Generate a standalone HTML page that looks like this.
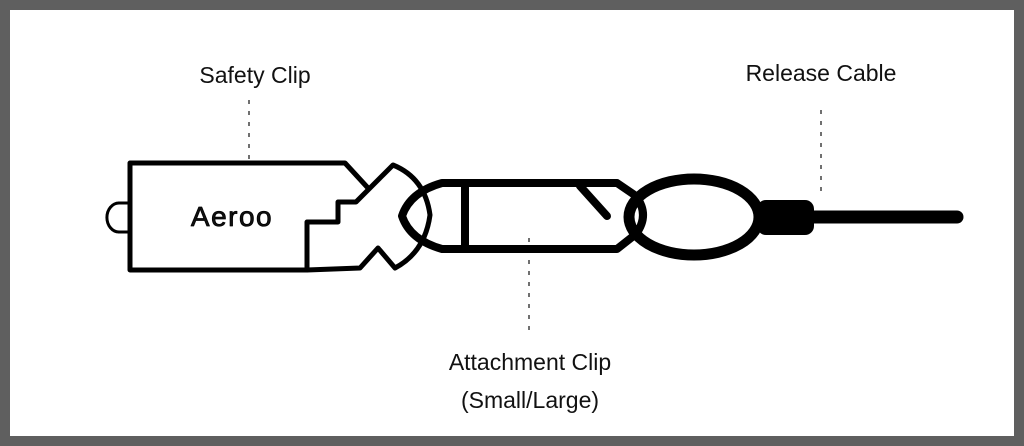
<!DOCTYPE html>
<html><head><style>
html,body{margin:0;padding:0;background:#fff}
svg{display:block}
text{font-family:"Liberation Sans",sans-serif;fill:#111}
</style></head><body>
<svg width="1024" height="446" viewBox="0 0 1024 446">
<rect x="5" y="5" width="1014" height="436" fill="#fff" stroke="#5f5f5f" stroke-width="10"/>
<text x="255" y="83" font-size="23" text-anchor="middle">Safety Clip</text>
<text x="821" y="81" font-size="23" text-anchor="middle">Release Cable</text>
<text x="530" y="370" font-size="23" text-anchor="middle">Attachment Clip</text>
<text x="530" y="408" font-size="23" text-anchor="middle">(Small/Large)</text>
<g stroke="#111" stroke-width="1.2" stroke-dasharray="4,7">
<line x1="249" y1="100" x2="249" y2="160"/>
<line x1="821" y1="110" x2="821" y2="195"/>
<line x1="529" y1="238" x2="529" y2="335"/>
</g>
<g fill="none" stroke="#000" stroke-linejoin="round" stroke-linecap="round">
<path d="M119 203 A10 12 0 0 0 119 232" stroke-width="3"/>
<line x1="119" y1="203" x2="130" y2="203" stroke-width="3"/>
<line x1="119" y1="232" x2="130" y2="232" stroke-width="3"/>
<path d="M307 270 L130 270 L130 163 L345 163 L368 188" stroke-width="5"/>
<path d="M307 270 L307 222 L338 222 L338 202 L356 202 L393 165 Q425 178 430 215 Q425 252 395 268 L378 248 L360 268 L307 270" stroke-width="5"/>
<text x="232" y="226" font-size="28" text-anchor="middle" stroke="#000" stroke-width="0.8" fill="#000" letter-spacing="1.5">Aeroo</text>
<path d="M442 183 L617 183 L636 196 Q650 215 636 234 L617 249 L442 249 Q410 240 402 216 Q410 192 442 183 Z" stroke-width="8"/>
<line x1="465" y1="185" x2="465" y2="247" stroke-width="8"/>
<line x1="580" y1="186" x2="607" y2="216" stroke-width="8"/>
<ellipse cx="694" cy="217" rx="65" ry="38" stroke-width="11"/>
<line x1="812" y1="217" x2="957" y2="217" stroke-width="13"/>
</g>
<rect x="757" y="200" width="57" height="35" rx="9" fill="#000"/>
</svg>
</body></html>
